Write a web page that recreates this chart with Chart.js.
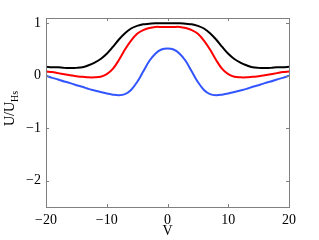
<!DOCTYPE html>
<html>
<head>
<meta charset="utf-8">
<script src="https://cdn.jsdelivr.net/npm/chart.js@4"></script>
<style>
  html, body { margin: 0; padding: 0; background: #fff; }
  #wrap { width: 319px; height: 240px; }
</style>
</head>
<body>
<div id="wrap"><canvas id="chart" width="319" height="240"></canvas></div>
<script>
// Data
const vValues = [-20,-19,-18,-17,-16,-15,-14,-13,-12,-11,-10,-9,-8,-7,-6,-5,-4,-3,-2,-1,0,1,2,3,4,5,6,7,8,9,10,11,12,13,14,15,16,17,18,19,20];
const blackCurve = [0.17,0.16,0.16,0.15,0.15,0.15,0.16,0.20,0.25,0.32,0.42,0.55,0.69,0.81,0.90,0.95,0.98,0.99,1.00,1.00,1.00,1.00,1.00,0.99,0.98,0.95,0.90,0.81,0.69,0.55,0.42,0.32,0.25,0.20,0.16,0.15,0.15,0.15,0.16,0.16,0.17];
const redCurve = [0.08,0.07,0.05,0.03,0.01,-0.01,-0.02,-0.03,-0.03,-0.02,0.03,0.13,0.30,0.50,0.67,0.80,0.87,0.91,0.93,0.93,0.93,0.93,0.93,0.91,0.87,0.80,0.67,0.50,0.30,0.13,0.03,-0.02,-0.03,-0.03,-0.02,-0.01,0.01,0.03,0.05,0.07,0.08];
const blueCurve = [0.00,-0.04,-0.07,-0.11,-0.14,-0.18,-0.21,-0.25,-0.28,-0.31,-0.34,-0.36,-0.37,-0.35,-0.27,-0.12,0.08,0.28,0.42,0.50,0.52,0.50,0.42,0.28,0.08,-0.12,-0.27,-0.35,-0.37,-0.36,-0.34,-0.31,-0.28,-0.25,-0.21,-0.18,-0.14,-0.11,-0.07,-0.04,0.00];
const xTicks = [-20, -10, 0, 10, 20];
const yTicks = [-2, -1, 0, 1];

const pts = arr => arr.map((y, i) => ({ x: vValues[i], y }));
const minus = v => String(v).replace('-', '\u2212');
const serif = "'Liberation Serif', 'DejaVu Serif', serif";
const axisColor = '#808080';

// MATLAB style box with inward ticks on all four sides, plus the y label with subscript
const matlabBox = {
  id: 'matlabBox',
  afterDraw(chart) {
    const { ctx, chartArea: a, scales: { x, y } } = chart;
    const t = 3;
    ctx.save();
    ctx.strokeStyle = axisColor;
    ctx.lineWidth = 1;
    ctx.strokeRect(a.left + 0.5, a.top + 0.5, a.right - a.left, a.bottom - a.top);
    ctx.beginPath();
    xTicks.forEach(v => {
      const px = Math.round(x.getPixelForValue(v)) + 0.5;
      ctx.moveTo(px, a.bottom); ctx.lineTo(px, a.bottom - t);
      ctx.moveTo(px, a.top); ctx.lineTo(px, a.top + t);
    });
    yTicks.forEach(v => {
      const py = Math.round(y.getPixelForValue(v)) + 0.5;
      ctx.moveTo(a.left, py); ctx.lineTo(a.left + t, py);
      ctx.moveTo(a.right, py); ctx.lineTo(a.right - t, py);
    });
    ctx.stroke();

    // y label: U/U with subscript Hs
    ctx.translate(14, 126);
    ctx.rotate(-Math.PI / 2);
    ctx.fillStyle = '#000';
    ctx.textBaseline = 'alphabetic';
    ctx.textAlign = 'left';
    ctx.font = '14px ' + serif;
    ctx.fillText('U/U', 0, 0);
    const w = ctx.measureText('U/U').width;
    ctx.font = '10px ' + serif;
    ctx.fillText('Hs', w, 4);
    ctx.restore();
  }
};

new Chart(document.getElementById('chart'), {
  type: 'line',
  data: {
    datasets: [
      { data: pts(blackCurve), borderColor: '#000000' },
      { data: pts(redCurve), borderColor: '#ff0000' },
      { data: pts(blueCurve), borderColor: '#3355ff' }
    ]
  },
  options: {
    responsive: false,
    animation: false,
    events: [],
    layout: { padding: { left: 0, top: 18, right: 30, bottom: 0 } },
    elements: {
      line: { borderWidth: 2, tension: 0.35, fill: false },
      point: { radius: 0 }
    },
    plugins: { legend: { display: false }, tooltip: { enabled: false } },
    scales: {
      x: {
        type: 'linear', min: -20, max: 20,
        afterBuildTicks: s => { s.ticks = xTicks.map(value => ({ value })); },
        afterFit: s => { s.height = 33; },
        grid: { display: false, drawTicks: false },
        border: { display: false },
        ticks: { padding: 5, color: '#000', font: { family: serif, size: 14 }, maxRotation: 0, callback: v => minus(v) },
        title: { display: true, text: 'V', color: '#000', font: { family: serif, size: 14 }, padding: { top: 0, bottom: 0 } }
      },
      y: {
        type: 'linear', min: -2.5, max: 1.1,
        afterBuildTicks: s => { s.ticks = yTicks.map(value => ({ value })); },
        afterFit: s => { s.width = 46; },
        grid: { display: false, drawTicks: false },
        border: { display: false },
        ticks: { padding: 5, color: '#000', font: { family: serif, size: 14 }, callback: v => minus(v) }
      }
    }
  },
  plugins: [matlabBox]
});
</script>
</body>
</html>
